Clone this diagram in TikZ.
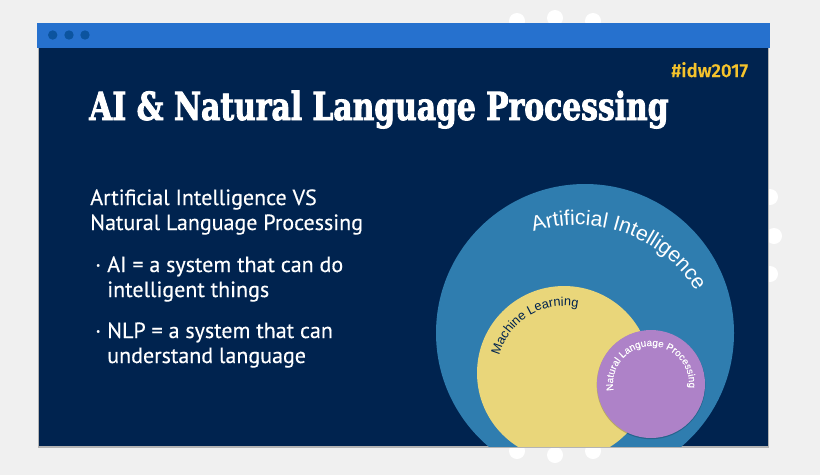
\documentclass[tikz,border=0pt]{standalone}
\usepackage{fontspec}
\usetikzlibrary{decorations.text}
\setmainfont[FakeBold=0.35]{PT Sans}
\newfontfamily\titlefont[FakeStretch=0.77,FakeBold=2.2]{DejaVu Serif Bold}
\newfontfamily\tagfont[FakeBold=0.5]{Fira Sans Medium}
\newfontfamily\arcfont{Liberation Sans}
\newfontfamily\arcboldfont[FakeBold=0.3]{Liberation Sans}
\definecolor{pagegrey}{HTML}{F0F0F0}
\definecolor{edgegrey}{HTML}{B4B4B4}
\definecolor{slideblue}{HTML}{00234F}
\definecolor{barblue}{HTML}{2671CE}
\definecolor{dotblue}{HTML}{0C549F}
\definecolor{tagyellow}{HTML}{F5C32C}
\definecolor{aiblue}{HTML}{2F7DAF}
\definecolor{mlyellow}{HTML}{E9D67A}
\definecolor{nlppurple}{HTML}{AE82C8}
\tikzset{
  bodytext/.style={text=white,inner sep=0pt,anchor=base west,align=left,
    font=\fontsize{16.5}{18.75}\selectfont},
  puff/.style={fill=white},
}

\begin{document}
\begin{tikzpicture}[x=0.75pt,y=0.75pt]
      \useasboundingbox (0,0) rectangle (820,-475);
      \fill[pagegrey] (0,0) rectangle (820,-475);

      \foreach \px/\py in {517/21,555/18,593/21,770/197,774/236,770/274,517/451,555/455,593/451}
        \fill[puff] (\px,-\py) circle[radius=8];

      \fill[edgegrey] (37.5,-48) rectangle (769,-447.5);
      \fill[slideblue] (39,-48) rectangle (767.5,-446);
      \fill[barblue] (37,-23) rectangle (769.5,-48);
      \foreach \px in {52.7,69,85}
        \fill[dotblue] (\px,-35) circle[radius=4.7];

      \coordinate (aicentre) at (585,-333);
      \coordinate (aitextcentre) at (577,-365);
      \coordinate (mlcentre) at (564,-373);
      \coordinate (nlpcentre) at (651,-384);

      \begin{scope}
        \clip (39,-48) rectangle (767.5,-446);
        \fill[aiblue] (aicentre) circle[radius=149];
        \fill[mlyellow] (mlcentre) circle[radius=87];
        \fill[black,opacity=0.2] (nlpcentre) ++(0,-0.8) circle[radius=54.4];
        \fill[nlppurple] (nlpcentre) circle[radius=54];
      \end{scope}

      \path[decorate,decoration={text along path,text color=white,text align=center,
        text={|\arcfont\fontsize{15.8}{15.8}\selectfont|Artificial Intelligence}}]
        ([shift={(110:140)}]aitextcentre) arc[start angle=110,end angle=30,radius=140];
      \path[decorate,decoration={text along path,text color=slideblue,text align=center,
        text={|\arcfont\fontsize{9.6}{9.6}\selectfont|Machine Learning}}]
        ([shift={(167:67)}]mlcentre) arc[start angle=167,end angle=76,radius=67];
      \path[decorate,decoration={text along path,text color=white,text align=center,
        text={|\arcboldfont\fontsize{7.4}{7.4}\selectfont|Natural Language Processing}}]
        ([shift={(190:38)}]nlpcentre) arc[start angle=190,end angle=-6,radius=38];

      \node[anchor=base west,inner sep=0pt,text=tagyellow,font=\tagfont\fontsize{14}{14}\selectfont] (tag) at (671,-77) {\#idw2017};
      \node[anchor=base west,inner sep=0pt,text=white,font=\titlefont\fontsize{29}{29}\selectfont] (title) at (89,-120) {AI \& Natural Language Processing};

      \node[bodytext] (heading) at (90,-230) {Artificial Intelligence VS\\Natural Language Processing};
      \node[bodytext] (bulletai) at (95,-272) {·};
      \node[bodytext] (ai) at (107,-297) {AI = a system that can do\\intelligent things};
      \node[bodytext] (bulletnlp) at (95,-338) {·};
      \node[bodytext] (nlp) at (107,-363) {NLP = a system that can\\understand language};
    \end{tikzpicture}
\end{document}
